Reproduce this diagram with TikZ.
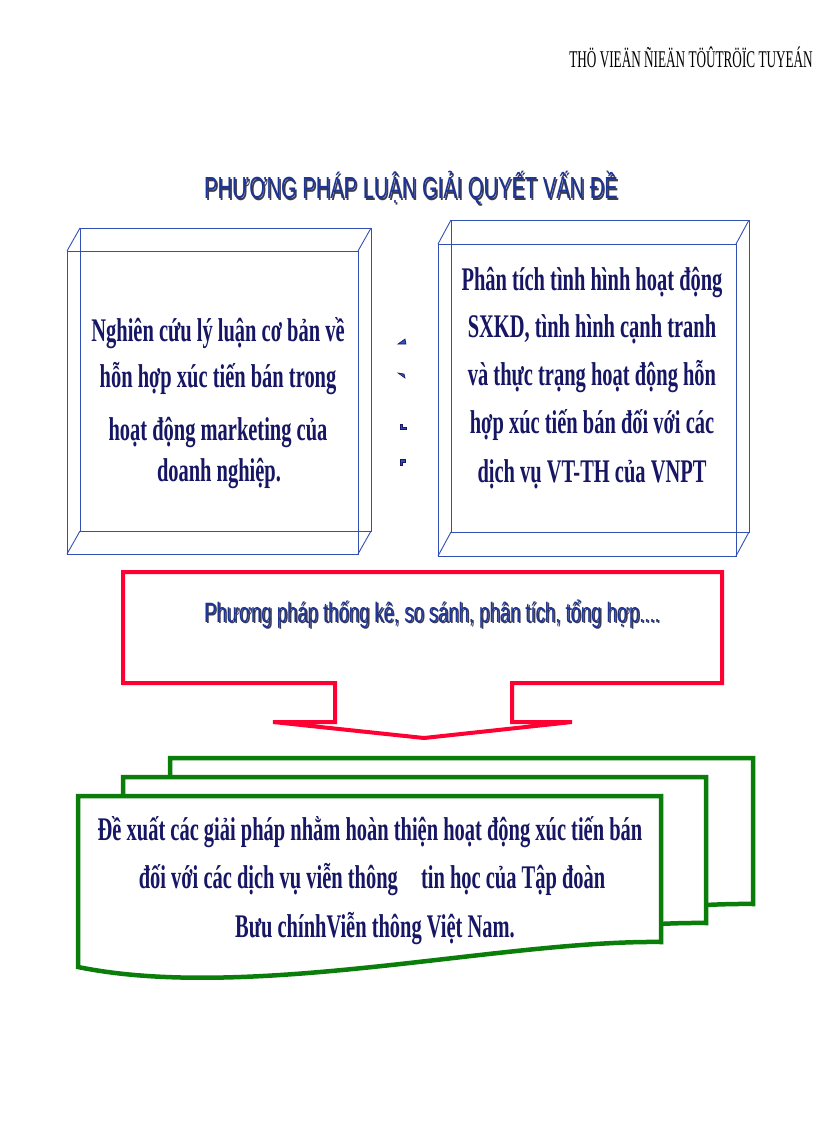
\documentclass[tikz,border=0pt]{standalone}
\usepackage{fontspec}
\setmainfont{Liberation Serif}
\newfontfamily\boxfont{Liberation Serif}[FakeStretch=0.62]
\newfontfamily\sansfont{Liberation Sans}[FakeStretch=0.66]
\newfontfamily\headfont{Liberation Serif}[FakeStretch=0.55]
\definecolor{navytext}{RGB}{22,22,100}
\definecolor{titleblue}{RGB}{28,52,150}
\definecolor{shadowc}{RGB}{60,60,80}
\definecolor{boxblue}{RGB}{50,80,180}
\definecolor{pptred}{RGB}{255,0,51}
\definecolor{pptgreen}{RGB}{10,125,10}
\tikzset{
  boxline/.style={draw=boxblue, line width=0.9pt},
  boxtext/.style={anchor=base, inner sep=0pt, text=navytext, font=\boxfont\bfseries\fontsize{33}{40}\selectfont},
  titletext/.style={anchor=base, inner sep=0pt, text=titleblue, font=\sansfont\fontsize{30.5}{36}\selectfont},
  shadowtext/.style={anchor=base, inner sep=0pt, text=shadowc, font=\sansfont\fontsize{30.5}{36}\selectfont},
  redtext/.style={anchor=base, inner sep=0pt, text=titleblue, font=\sansfont\fontsize{28}{34}\selectfont},
  redshadow/.style={anchor=base, inner sep=0pt, text=shadowc, font=\sansfont\fontsize{28}{34}\selectfont},
  redshape/.style={draw=pptred, line width=4pt, line join=miter, fill=white},
  greendoc/.style={draw=pptgreen, line width=4.5pt, line join=miter, fill=white},
  tinymark/.style={fill=boxblue, draw=navytext, line width=0.6pt}
}
\begin{document}
\begin{tikzpicture}[x=1pt,y=-1pt]
\useasboundingbox (0,0) rectangle (816,1123);
\fill[white] (0,0) rectangle (816,1123);

% header
\node[anchor=base east, inner sep=0pt, font=\headfont\fontsize{24}{28}\selectfont] (head) at (813,68) {THÖ VIEÄN ÑIEÄN TÖÛTRÖÏC TUYEÁN};

% title
\node[shadowtext] (titleshadow) at (412.5,200.5) {PHƯƠNG PHÁP LUẬN GIẢI QUYẾT VẤN ĐỀ};
\node[titletext] (title) at (411,199) {PHƯƠNG PHÁP LUẬN GIẢI QUYẾT VẤN ĐỀ};

% left 3D box
\begin{scope}[boxline]
  \coordinate (lfa) at (67,251); \coordinate (lfb) at (358,251);
  \coordinate (lfc) at (358,554); \coordinate (lfd) at (67,554);
  \coordinate (lba) at (80,228); \coordinate (lbb) at (371,228);
  \coordinate (lbc) at (371,531); \coordinate (lbd) at (80,531);
  \draw (lba) -- (lbb) -- (lbc) -- (lbd) -- cycle;
  \draw (lfa) -- (lba) (lfb) -- (lbb) (lfc) -- (lbc) (lfd) -- (lbd);
  \draw (lfa) -- (lfb) -- (lfc) -- (lfd) -- cycle;
\end{scope}
\node[boxtext] (l1) at (218,341) {Nghiên cứu lý luận cơ bản về};
\node[boxtext] (l2) at (218,387) {hỗn hợp xúc tiến bán trong};
\node[boxtext] (l3) at (218,440) {hoạt động marketing của};
\node[boxtext] (l4) at (219,481) {doanh nghiệp.};

% right 3D box
\begin{scope}[boxline]
  \coordinate (rfa) at (438,244); \coordinate (rfb) at (736,244);
  \coordinate (rfc) at (736,556); \coordinate (rfd) at (438,556);
  \coordinate (rba) at (451,220); \coordinate (rbb) at (749,220);
  \coordinate (rbc) at (749,532); \coordinate (rbd) at (451,532);
  \draw (rba) -- (rbb) -- (rbc) -- (rbd) -- cycle;
  \draw (rfa) -- (rba) (rfb) -- (rbb) (rfc) -- (rbc) (rfd) -- (rbd);
  \draw (rfa) -- (rfb) -- (rfc) -- (rfd) -- cycle;
\end{scope}
\node[boxtext] (r1) at (592,290) {Phân tích tình hình hoạt động};
\node[boxtext] (r2) at (592,337) {SXKD, tình hình cạnh tranh};
\node[boxtext] (r3) at (592,385) {và thực trạng hoạt động hỗn};
\node[boxtext] (r4) at (592,433) {hợp xúc tiến bán đối với các};
\node[boxtext] (r5) at (592,482) {dịch vụ VT-TH của VNPT};

% tiny marks between boxes
\fill[tinymark] (398,344) -- (405,339) -- (406,344) -- cycle;
\fill[tinymark] (398,373) -- (404,374) -- (405,378) -- cycle;
\fill[tinymark] (400.5,424.5) -- (402.5,424.5) -- (402.5,427.5) -- (406,427.5) -- (406,429.5) -- (400.5,429.5) -- cycle;
\fill[tinymark] (400.5,459.5) -- (405.5,459.5) -- (405.5,462.5) -- (402.5,462.5) -- (402.5,465) -- (400.5,465) -- cycle;

% red callout with down arrow
\coordinate (ra) at (123,572); \coordinate (rb) at (722,572);
\coordinate (rc) at (722,683); \coordinate (rd) at (512,683);
\coordinate (re) at (512,722); \coordinate (rf) at (572,722);
\coordinate (rtip) at (424,738); \coordinate (rg) at (273,722);
\coordinate (rh) at (335,722); \coordinate (ri) at (335,683);
\coordinate (rj) at (123,683);
\draw[redshape] (ra) -- (rb) -- (rc) -- (rd) -- (re) -- (rf) -- (rtip) -- (rg) -- (rh) -- (ri) -- (rj) -- cycle;
\node[redshadow] (mshadow) at (433.5,623.5) {Phương pháp thống kê, so sánh, phân tích, tổng hợp....};
\node[redtext] (mtext) at (432,622) {Phương pháp thống kê, so sánh, phân tích, tổng hợp....};

% green multi-document
\foreach \dx/\dy in {92/-38, 45/-19, 0/0} {
  \begin{scope}[shift={(\dx,\dy)}]
    \draw[greendoc] (78,796) -- (661,796) -- (661,942)
      .. controls (500,940) and (250,1002) .. (78,967) -- cycle;
  \end{scope}
}
\node[boxtext] (g1) at (370,840) {Đề xuất các giải pháp nhằm hoàn thiện hoạt động xúc tiến bán};
\node[boxtext] (g2) at (372,888) {đối với các dịch vụ viễn thông\hspace{18pt} tin học của Tập đoàn};
\node[boxtext] (g3) at (375,937) {Bưu chínhViễn thông Việt Nam.};
\end{tikzpicture}
\end{document}
